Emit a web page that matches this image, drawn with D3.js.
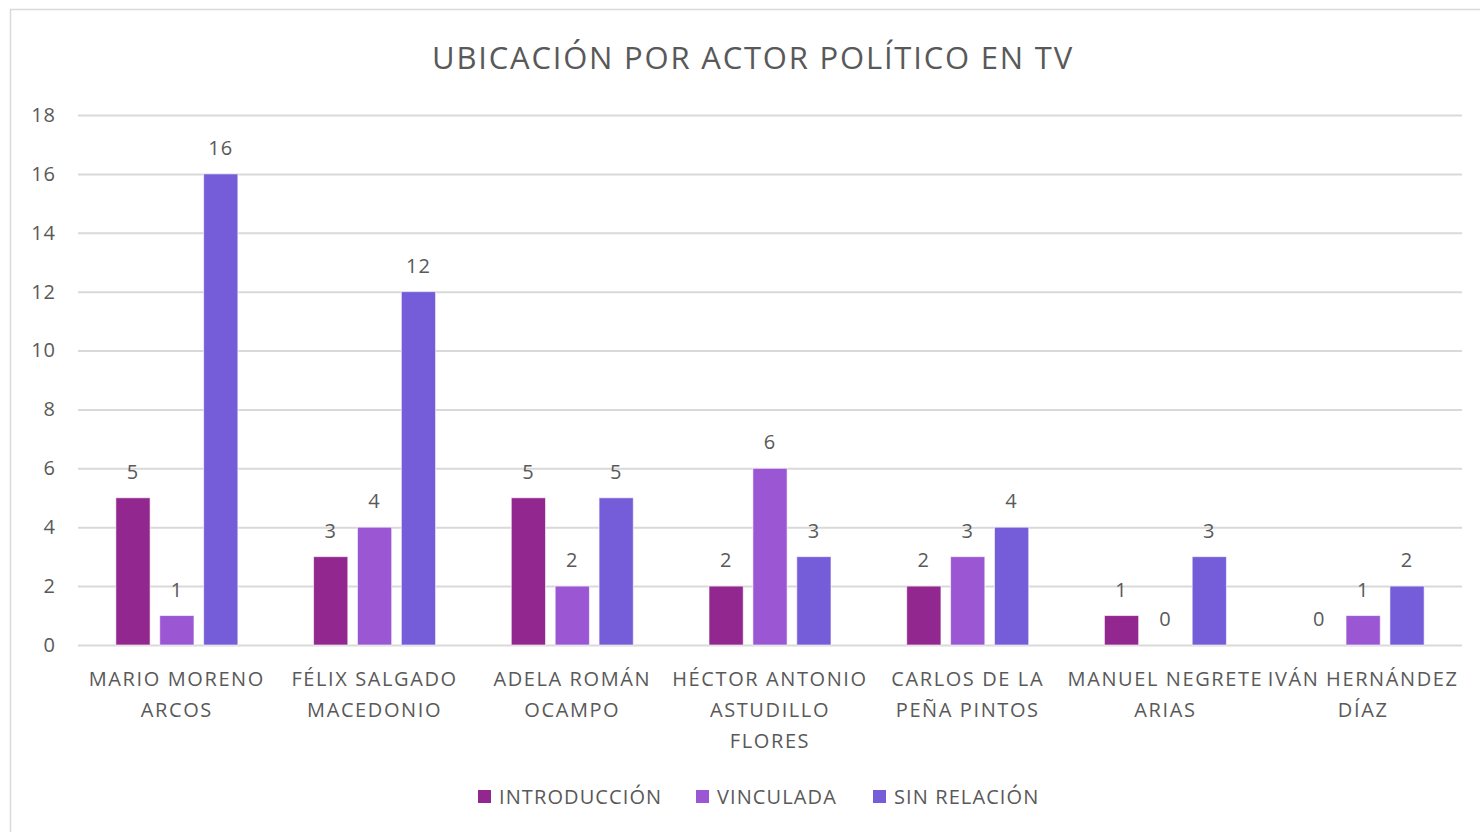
<!DOCTYPE html>
<html><head><meta charset="utf-8">
<script src="https://cdn.jsdelivr.net/npm/d3@7"></script>
<style>
html,body{margin:0;padding:0;background:#fff;}
svg text{font-family:"Open Sans",sans-serif;fill:#595959;}
</style></head>
<body><svg id="c" width="1480" height="832"></svg>
<script>
const categories = [["MARIO MORENO","ARCOS"],["FÉLIX SALGADO","MACEDONIO"],["ADELA ROMÁN","OCAMPO"],["HÉCTOR ANTONIO","ASTUDILLO","FLORES"],["CARLOS DE LA","PEÑA PINTOS"],["MANUEL NEGRETE","ARIAS"],["IVÁN HERNÁNDEZ","DÍAZ"]];
const seriesNames = ["INTRODUCCIÓN","VINCULADA","SIN RELACIÓN"];
const introduccion = [5,3,5,2,2,1,0];
const vinculada = [1,4,2,6,3,0,1];
const sinRelacion = [16,12,5,3,4,3,2];
const colors = ["#92278F","#9B57D3","#755DD9"];
const yTicks = [0,2,4,6,8,10,12,14,16,18];
const title = "UBICACIÓN POR ACTOR POLÍTICO EN TV";

(function(){
const series = [introduccion, vinculada, sinRelacion];
const svg = d3.select("#c");
svg.append("rect").attr("x",10.5).attr("y",9.5).attr("width",1480).attr("height",840)
  .attr("fill","#fff").attr("stroke","#d9d9d9").attr("stroke-width",1.5);

const pL=78, pR=1462, pT=115, pB=645;
const x = d3.scaleBand().domain(d3.range(categories.length)).range([pL,pR]);
const y = d3.scaleLinear().domain([0,18]).range([pB,pT]);
const inner = d3.scaleBand().domain(d3.range(3)).range([0,122]).paddingInner(0.22);

svg.append("text").attr("x",753).attr("y",69).attr("text-anchor","middle")
  .style("font-size","31px").style("letter-spacing","1.8px").text(title);

const yAxis = d3.axisLeft(y).tickValues(yTicks).tickSize(-(pR-pL)).tickPadding(22);
const gy = svg.append("g").attr("transform",`translate(${pL},0)`).call(yAxis);
gy.select(".domain").remove();
gy.selectAll(".tick line").attr("stroke","#d9d9d9").attr("stroke-width",2);
gy.selectAll(".tick text").style("font-size","20px").style("letter-spacing","1px")
  .attr("fill","#595959").attr("dy","0.32em");

const groups = svg.append("g").selectAll("g").data(categories).join("g")
  .attr("transform",(d,i)=>`translate(${x(i)+x.bandwidth()/2-61},0)`);
series.forEach((vals,s)=>{
  groups.append("rect")
    .attr("x",inner(s)).attr("width",inner.bandwidth())
    .attr("y",(d,i)=>y(vals[i])).attr("height",(d,i)=>pB-y(vals[i]))
    .attr("fill",colors[s]).attr("stroke","rgba(255,255,255,0.6)").attr("stroke-width",1)
    .attr("display",(d,i)=>vals[i]===0?"none":null);
  groups.append("text")
    .attr("x",inner(s)+inner.bandwidth()/2).attr("y",(d,i)=>y(vals[i])-19)
    .attr("text-anchor","middle").style("font-size","20px").style("letter-spacing","1px")
    .text((d,i)=>vals[i]);
});

const xl = svg.append("g").selectAll("text").data(categories).join("text")
  .attr("x",(d,i)=>x(i)+x.bandwidth()/2).attr("y",686)
  .attr("text-anchor","middle").style("font-size","20px").style("letter-spacing","1.6px");
xl.selectAll("tspan").data(d=>d).join("tspan")
  .attr("x",function(){return this.parentNode.getAttribute("x");})
  .attr("dy",(d,i)=>i===0?0:31).text(d=>d);

const legX=[478,696,873];
const leg = svg.append("g").selectAll("g").data(seriesNames).join("g")
  .attr("transform",(d,i)=>`translate(${legX[i]},790)`);
leg.append("rect").attr("width",13).attr("height",13).attr("fill",(d,i)=>colors[i]);
leg.append("text").attr("x",21).attr("y",14).style("font-size","20px").style("letter-spacing","1.1px").text(d=>d);
})();
</script></body></html>
